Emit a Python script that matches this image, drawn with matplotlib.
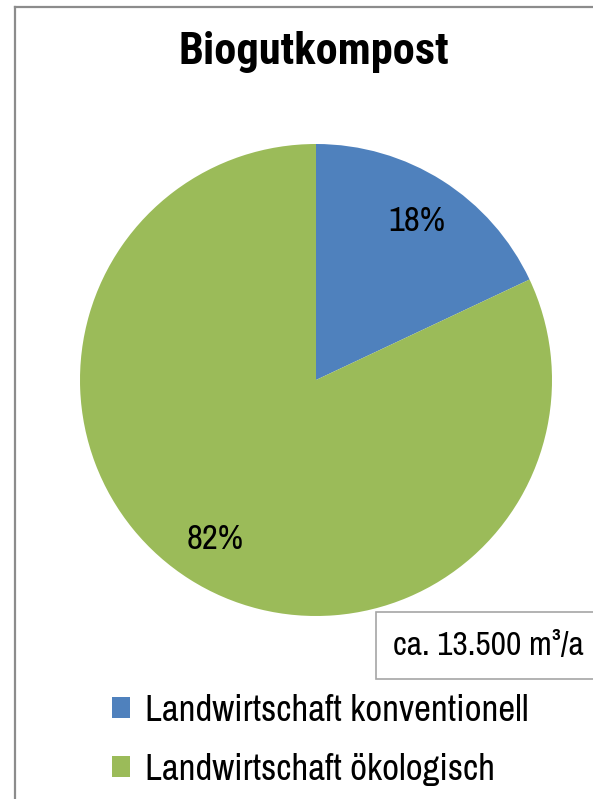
import matplotlib
matplotlib.use("Agg")
import matplotlib.pyplot as plt
from matplotlib import font_manager
from matplotlib.lines import Line2D
from matplotlib.patches import Rectangle, Patch

# schmale Schriften, je nachdem was installiert ist
installed = {(f.name, f.weight) for f in font_manager.fontManager.ttflist}

def pick(candidates, weight):
    for name in candidates:
        if (name, weight) in installed:
            return name
    return 'Liberation Sans'

narrow_candidates = ['Archivo Narrow', 'Roboto Condensed', 'PT Sans Narrow',
                     'Pragati Narrow', 'Encode Sans Semi Condensed']
body_font = pick(narrow_candidates, 400)
title_font = pick(narrow_candidates, 700)
plt.rcParams['font.family'] = [body_font, 'DejaVu Sans']

# Daten
categories = ["Landwirtschaft konventionell", "Landwirtschaft ökologisch"]
shares = [18, 82]
colors = ["#4F81BD", "#9BBB59"]
title = "Biogutkompost"
volume_note = "ca. 13.500 m³/a"

W, H = 593, 799
fig = plt.figure(figsize=(W / 100, H / 100), dpi=100)

def fx(px):
    return px / W

def fy(py):
    return 1 - py / H

# Tortendiagramm
ax = fig.add_axes([fx(80), fy(616), fx(552) - fx(80), fy(144) - fy(616)])
wedges, texts, autotexts = ax.pie(
    shares, colors=colors, startangle=90, counterclock=False,
    autopct='%d%%', pctdistance=0.80,
    textprops={'fontsize': 25, 'color': 'black'},
)
ax.set_aspect('equal')
ax.set_xlim(-1, 1)
ax.set_ylim(-1, 1)

# Titel
fig.text(fx(314), fy(52), title, ha='center', va='center',
         fontsize=32, fontweight='bold', family=[title_font, 'DejaVu Sans'])

# Rahmen (links und oben)
frame_kw = dict(transform=fig.transFigure, color='#8c8c8c', linewidth=1.6)
fig.add_artist(Line2D([fx(15), fx(15)], [fy(7), 0], **frame_kw))
fig.add_artist(Line2D([fx(15), 1], [fy(7), fy(7)], **frame_kw))

# Textfeld mit Menge
fig.add_artist(Rectangle((fx(376), fy(679)), fx(W + 5) - fx(376), fy(612) - fy(679),
                         transform=fig.transFigure, facecolor='white',
                         edgecolor='#a6a6a6', linewidth=1.2))
fig.text(fx(488), fy(646), volume_note, ha='center', va='center', fontsize=24)

# Legende
handles = [Patch(facecolor=c, edgecolor='none') for c in colors]
fig.legend(handles, categories, loc='upper left',
           bbox_to_anchor=(fx(112), fy(694)), frameon=False,
           fontsize=26.5, handlelength=0.5, handleheight=0.5,
           handletextpad=0.4, labelspacing=0.7, borderaxespad=0,
           borderpad=0)

fig.savefig("out.png", dpi=100)
